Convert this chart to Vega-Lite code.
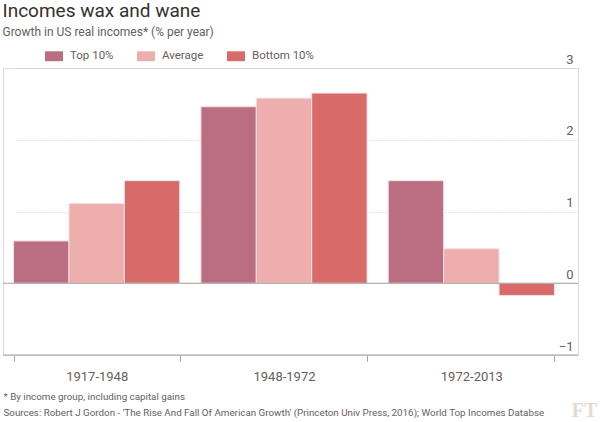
{
  "$schema": "https://vega.github.io/schema/vega-lite/v6.json",
  "autosize": "none",
  "width": 575,
  "height": 287,
  "padding": {"left": 3, "top": 68, "right": 22, "bottom": 67},
  "background": "white",
  "title": {
    "text": "Incomes wax and wane",
    "subtitle": "Growth in US real incomes* (% per year)",
    "anchor": "start",
    "font": "Roboto",
    "fontSize": 19,
    "fontWeight": "normal",
    "color": "#33302e",
    "subtitleFont": "Roboto",
    "subtitleFontSize": 12,
    "subtitleColor": "#66605c",
    "subtitlePadding": 6,
    "offset": 9
  },
  "data": {
    "values": [
      {"period": "1917-1948", "group": "Top 10%", "growth": 0.59},
      {"period": "1917-1948", "group": "Average", "growth": 1.11},
      {"period": "1917-1948", "group": "Bottom 10%", "growth": 1.43},
      {"period": "1948-1972", "group": "Top 10%", "growth": 2.46},
      {"period": "1948-1972", "group": "Average", "growth": 2.58},
      {"period": "1948-1972", "group": "Bottom 10%", "growth": 2.65},
      {"period": "1972-2013", "group": "Top 10%", "growth": 1.43},
      {"period": "1972-2013", "group": "Average", "growth": 0.48},
      {"period": "1972-2013", "group": "Bottom 10%", "growth": -0.17}
    ]
  },
  "layer": [
    {
      "mark": {"type": "bar", "stroke": "#f4dfe2", "strokeWidth": 1},
      "encoding": {
        "x": {
          "field": "period",
          "type": "nominal",
          "sort": null,
          "scale": {"range": [0, 562], "paddingInner": 0.113, "paddingOuter": 0.0565},
          "axis": {
            "orient": "bottom",
            "domain": false,
            "tickColor": "#a7a29c",
            "tickSize": 6,
            "tickBand": "extent",
            "labelFont": "Roboto",
            "labelFontSize": 13,
            "labelColor": "#66605c",
            "labelPadding": 9,
            "labelAngle": 0,
            "title": ["* By income group, including capital gains", "Sources: Robert J Gordon - 'The Rise And Fall Of American Growth' (Princeton Univ Press, 2016); World Top Incomes Databse"],
            "titleFont": "Roboto",
            "titleFontSize": 9.8,
            "titleFontWeight": "normal",
            "titleColor": "#66605c",
            "titleAnchor": "start",
            "titleAlign": "left",
            "titleBaseline": "alphabetic",
            "titleLineHeight": 16,
            "titleX": 0,
            "titleY": 44
          }
        },
        "xOffset": {
          "field": "group",
          "type": "nominal",
          "sort": ["Top 10%", "Average", "Bottom 10%"],
          "scale": {"paddingInner": 0, "paddingOuter": 0}
        },
        "y": {
          "field": "growth",
          "type": "quantitative",
          "scale": {"domain": [-1, 3], "nice": false},
          "axis": {
            "orient": "right",
            "values": [-1, 0, 1, 2, 3],
            "format": "d",
            "grid": true,
            "gridColor": "#cdc5bd",
            "gridDash": [1, 2],
            "domain": false,
            "ticks": false,
            "labelAlign": "right",
            "labelBaseline": "alphabetic",
            "labelPadding": -5,
            "labelOffset": -5,
            "labelFont": "Roboto",
            "labelFontSize": 13,
            "labelColor": "#66605c",
            "title": "FT",
            "titleFont": "Liberation Serif",
            "titleFontSize": 20,
            "titleFontWeight": "bold",
            "titleColor": "#e6dacd",
            "titleAngle": 0,
            "titleAlign": "center",
            "titleBaseline": "alphabetic",
            "titleX": 6,
            "titleY": 348
          }
        },
        "color": {
          "field": "group",
          "type": "nominal",
          "scale": {
            "domain": ["Top 10%", "Average", "Bottom 10%"],
            "range": ["#bb6d82", "#edaeae", "#d86b69"]
          },
          "legend": {
            "orient": "none",
            "direction": "horizontal",
            "legendX": 42,
            "legendY": -21,
            "title": null,
            "symbolType": "M-1,-0.55H1V0.55H-1Z",
            "symbolSize": 324,
            "symbolStrokeWidth": 0,
            "symbolOpacity": 1,
            "labelFont": "Roboto",
            "labelFontSize": 11.5,
            "labelColor": "#66605c",
            "labelOffset": 7,
            "columnPadding": 23
          }
        }
      }
    },
    {
      "data": {"values": [{"v": 0}, {"v": -1}]},
      "mark": {"type": "rule", "color": "#a7a29c", "strokeWidth": 1},
      "encoding": {"y": {"field": "v", "type": "quantitative"}}
    }
  ]
}
